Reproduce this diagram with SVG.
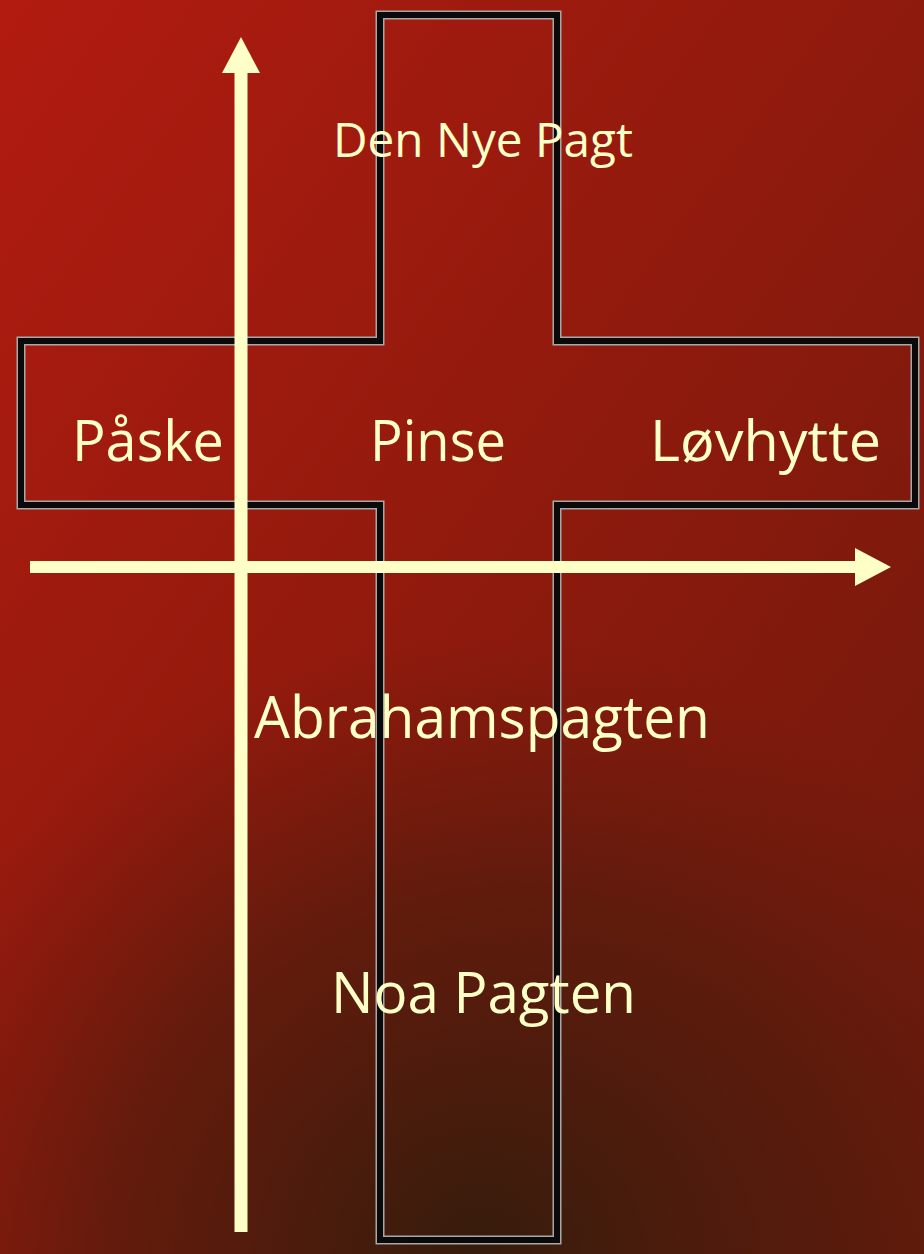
<svg xmlns="http://www.w3.org/2000/svg" width="924" height="1254" viewBox="0 0 924 1254">
  <defs>
    <linearGradient id="bg" x1="0" y1="0" x2="1" y2="1">
      <stop offset="0" stop-color="#B21B10"/>
      <stop offset="0.5" stop-color="#8E1A0D"/>
      <stop offset="1" stop-color="#6A1A0C"/>
    </linearGradient>
    <radialGradient id="shade" cx="480" cy="1254" r="620" gradientUnits="userSpaceOnUse">
      <stop offset="0" stop-color="#351C0C" stop-opacity="1"/>
      <stop offset="0.6" stop-color="#4A1C0C" stop-opacity="0.6"/>
      <stop offset="1" stop-color="#5A1A0C" stop-opacity="0"/>
    </radialGradient>
    <style>
      .lbl { font-family: "Open Sans", "Liberation Sans", sans-serif; fill: #FFFFC8; }
      .arrow { stroke: #FFFFC8; fill: none; }
      .head { fill: #FFFFC8; }
      .edge { fill: none; stroke: #A8A8A8; stroke-width: 9; stroke-linejoin: miter; }
      .core { fill: none; stroke: #0A0A0A; stroke-width: 6; stroke-linejoin: miter; }
    </style>
  </defs>
  <rect x="0" y="0" width="924" height="1254" fill="url(#bg)"/>
  <rect x="0" y="0" width="924" height="1254" fill="url(#shade)"/>

  <g id="cross">
    <path class="edge" d="M380,15 H557 V341 H915 V505 H557 V1240 H380 V505 H21 V341 H380 Z"/>
    <path class="core" d="M380,15 H557 V341 H915 V505 H557 V1240 H380 V505 H21 V341 H380 Z"/>
  </g>

  <g id="connectors">
    <line class="arrow" x1="241" y1="1232" x2="241" y2="72" stroke-width="13"/>
    <path class="head" d="M241,37 L260,73 L222,73 Z"/>
    <line class="arrow" x1="30" y1="567" x2="856" y2="567" stroke-width="12"/>
    <path class="head" d="M891,567 L855,548 L855,586 Z"/>
  </g>

  <g id="node-den-nye-pagt">
    <text class="lbl" x="333" y="157" font-size="48" textLength="300" lengthAdjust="spacingAndGlyphs">Den Nye Pagt</text>
  </g>
  <g id="node-paske">
    <text class="lbl" x="72" y="461" font-size="57" textLength="152" lengthAdjust="spacingAndGlyphs">Påske</text>
  </g>
  <g id="node-pinse">
    <text class="lbl" x="370" y="461" font-size="57" textLength="136" lengthAdjust="spacingAndGlyphs">Pinse</text>
  </g>
  <g id="node-lovhytte">
    <text class="lbl" x="650" y="461" font-size="57" textLength="231" lengthAdjust="spacingAndGlyphs">Løvhytte</text>
  </g>
  <g id="node-abrahamspagten">
    <text class="lbl" x="254" y="738" font-size="59" textLength="456" lengthAdjust="spacingAndGlyphs">Abrahamspagten</text>
  </g>
  <g id="node-noa-pagten">
    <text class="lbl" x="331" y="1013" font-size="56" textLength="305" lengthAdjust="spacingAndGlyphs">Noa Pagten</text>
  </g>
</svg>
